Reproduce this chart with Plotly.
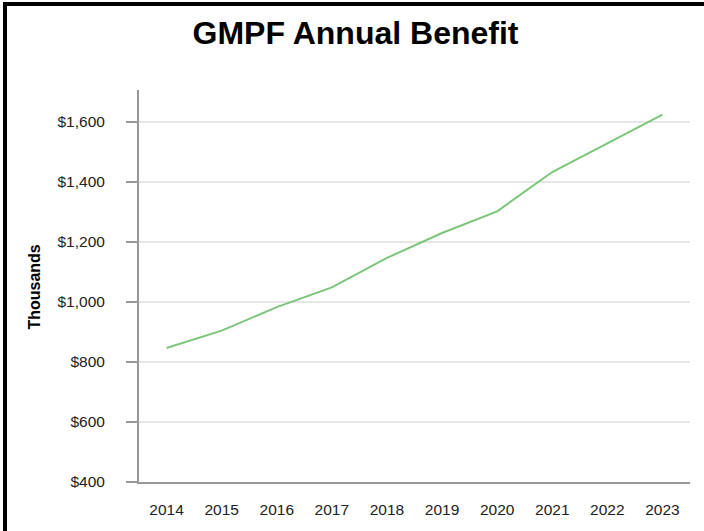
import plotly.graph_objects as go

# Data (thousands of dollars)
years = ["2014", "2015", "2016", "2017", "2018", "2019", "2020", "2021", "2022", "2023"]
benefit = [846, 904, 982, 1048, 1146, 1229, 1301, 1432, 1527, 1623]
y_ticks = [400, 600, 800, 1000, 1200, 1400, 1600]
y_tick_labels = ["$400", "$600", "$800", "$1,000", "$1,200", "$1,400", "$1,600"]

fig = go.Figure(go.Scatter(
    x=years,
    y=benefit,
    mode="lines",
    line=dict(color="#7cc67a", width=2),
    hoverinfo="x+y",
))

fig.update_layout(
    width=704,
    height=531,
    margin=dict(l=139, r=14, t=90, b=49),
    paper_bgcolor="white",
    plot_bgcolor="white",
    showlegend=False,
    font=dict(family="Arial, Liberation Sans, sans-serif", color="#222222", size=15.5),
    title=dict(
        text="<b>GMPF Annual Benefit</b>",
        x=0.505, xref="container", xanchor="center",
        y=0.938, yref="container", yanchor="middle",
        font=dict(size=32, color="#000000"),
    ),
    xaxis=dict(
        type="category",
        range=[-0.5, 9.5],
        showgrid=False,
        showline=True,
        linecolor="#999999",
        linewidth=2,
        ticks="outside",
        ticklen=12,
        tickcolor="rgba(0,0,0,0)",
    ),
    yaxis=dict(
        range=[400, 1705],
        tickvals=y_ticks,
        ticktext=y_tick_labels,
        showgrid=True,
        gridcolor="#e6e6e6",
        gridwidth=1.5,
        showline=True,
        linecolor="#999999",
        linewidth=2,
        ticks="outside",
        ticklen=11,
        tickwidth=2,
        tickcolor="#999999",
        ticklabelstandoff=18,
        zeroline=False,
    ),
    annotations=[dict(
        text="<b>Thousands</b>",
        textangle=-90,
        xref="paper", yref="paper",
        x=-0.1887, y=0.496,
        xanchor="center", yanchor="middle",
        showarrow=False,
        font=dict(size=16, color="#000000"),
    )],
    shapes=[dict(
        type="rect",
        xref="paper", yref="paper",
        x0=-0.2432, x1=1.5,
        y0=-1.0, y1=1.2194,
        line=dict(color="black", width=4),
        fillcolor="rgba(0,0,0,0)",
        layer="above",
    )],
)

fig.write_html(
    "out.html",
    config={"displayModeBar": False},
    post_script="document.body.style.margin='0';",
)
